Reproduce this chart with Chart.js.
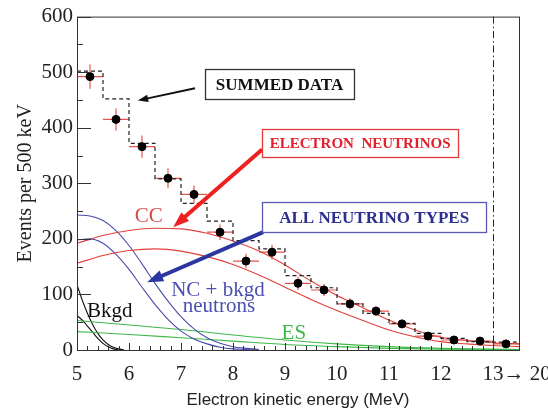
<!DOCTYPE html>
<html>
<head>
<meta charset="utf-8">
<script src="https://cdn.jsdelivr.net/npm/chart.js@4.4.1/dist/chart.umd.min.js"></script>
<style>
  html, body { margin: 0; padding: 0; background: #fff; }
  #wrap { width: 548px; height: 411px; position: relative; }
</style>
</head>
<body>
<div id="wrap"><canvas id="chart"></canvas></div>
<script>
// 數據點 (每 500 keV 一個 bin)
const binCenters = [5.25, 5.75, 6.25, 6.75, 7.25, 7.75, 8.25, 8.75, 9.25, 9.75, 10.25, 10.75, 11.25, 11.75, 12.25, 12.75, 13.25];
const dataEvents = [492, 415, 366, 309, 280, 212, 160, 176, 120, 108, 83, 70, 47, 25, 18, 16, 11];
const dataErrors = [22, 20, 20, 18, 16, 14, 13, 13, 12, 11, 10, 9, 8, 7, 6, 6, 5];

// 虛線直方圖 (summed prediction)
const binEdges = [5, 5.5, 6, 6.5, 7, 7.5, 8, 8.5, 9, 9.5, 10, 10.5, 11, 11.5, 12, 12.5, 13, 13.5];
const summed = [502, 452, 372, 308, 264, 232, 197, 182, 134, 112, 83, 66, 48, 30, 21, 15, 14];

// CC 曲線
const ccE = [5.0, 5.5, 6.0, 6.5, 7.0, 7.5, 8.0, 8.5, 9.0, 9.5, 10.0, 10.5, 11.0, 11.5, 12.0, 12.5, 13.0, 13.5];
const ccHigh = [192, 206, 215, 219, 218, 210, 196, 178, 153, 124, 98, 76, 54, 36, 23, 17, 13, 11];
const ccLow = [156, 170, 179, 182, 178, 168, 154, 135, 113, 91, 71, 53, 36, 24, 15, 11, 8, 6];

// NC + bkgd neutrons
const ncE = [5.0, 5.25, 5.5, 5.75, 6.0, 6.25, 6.5, 6.75, 7.0, 7.25, 7.5, 7.75, 8.0, 8.25, 8.5];
const ncHigh = [243, 241, 233, 215, 188, 155, 120, 88, 60, 38, 22, 12, 6, 3, 1];
const ncLow = [198, 200, 192, 172, 145, 113, 82, 55, 34, 20, 11, 5, 2, 1, 0];

// ES
const esE = [5, 6, 7, 8, 9, 10, 11, 12, 13, 13.5];
const esHigh = [53, 45, 37, 27, 18, 11, 6, 3, 1.5, 1];
const esLow = [33, 28, 22, 16, 10, 6, 3, 1.5, 1, 0.5];

// Bkgd
const bkE = [5.0, 5.1, 5.2, 5.3, 5.4, 5.5, 5.6, 5.7, 5.8, 5.9];
const bkHigh = [117, 90, 66, 46, 30, 18, 10, 5, 2, 0];
const bkLow = [62, 54, 43, 32, 21, 12, 6, 2, 0, 0];

// 軸刻度
const xMajor = [5, 6, 7, 8, 9, 10, 11, 12, 13];
const yMajor = [0, 100, 200, 300, 400, 500, 600];

const SERIF = "'Liberation Serif', 'DejaVu Serif', serif";
const SANS = "'Liberation Sans', Arial, sans-serif";

function pts(xs, ys) { return xs.map((x, i) => ({ x: x, y: ys[i] })); }

function curve(xs, ys, color) {
  return {
    type: 'line', data: pts(xs, ys), borderColor: color, borderWidth: 1.1,
    pointRadius: 0, fill: false, tension: 0.4, cubicInterpolationMode: 'monotone', order: 5
  };
}

// 誤差棒
const errorBars = {
  id: 'errorBars',
  beforeDatasetsDraw(chart) {
    const { ctx, scales: { x, y } } = chart;
    ctx.save();
    ctx.strokeStyle = '#e8554f';
    ctx.lineWidth = 1.2;
    binCenters.forEach((c, i) => {
      const px = x.getPixelForValue(c), py = y.getPixelForValue(dataEvents[i]);
      ctx.beginPath();
      ctx.moveTo(x.getPixelForValue(c - 0.25), py);
      ctx.lineTo(x.getPixelForValue(c + 0.25), py);
      ctx.moveTo(px, y.getPixelForValue(dataEvents[i] + dataErrors[i]));
      ctx.lineTo(px, y.getPixelForValue(dataEvents[i] - dataErrors[i]));
      ctx.stroke();
    });
    ctx.restore();
  }
};

// 邊框、內向刻度、13 MeV 點劃線
const frame = {
  id: 'frame',
  afterDatasetsDraw(chart) {
    const { ctx, chartArea: a, scales: { x, y } } = chart;
    ctx.save();
    ctx.strokeStyle = '#222';
    ctx.lineWidth = 1;
    ctx.setLineDash([7, 3, 1.5, 3]);
    const xl = Math.round(x.getPixelForValue(13)) + 0.5;
    ctx.beginPath(); ctx.moveTo(xl, a.top); ctx.lineTo(xl, a.bottom); ctx.stroke();
    ctx.setLineDash([]);
    ctx.strokeStyle = '#333';
    ctx.strokeRect(a.left + 0.5, a.top + 0.5, a.right - a.left, a.bottom - a.top);
    ctx.beginPath();
    for (let v = 5; v <= 13.001; v += 0.2) {
      const px = Math.round(x.getPixelForValue(v)) + 0.5;
      const major = Math.abs(v - Math.round(v)) < 0.01;
      ctx.moveTo(px, a.bottom); ctx.lineTo(px, a.bottom - (major ? 7 : 4));
    }
    for (let v = 0; v <= 600; v += 50) {
      const py = Math.round(y.getPixelForValue(v)) + 0.5;
      ctx.moveTo(a.left, py); ctx.lineTo(a.left + (v % 100 === 0 ? 14 : 6), py);
    }
    ctx.stroke();
    // 13→ 20 標籤
    ctx.fillStyle = '#222';
    ctx.font = '21px ' + SERIF;
    ctx.textBaseline = 'middle';
    ctx.textAlign = 'left';
    const w13 = ctx.measureText('13').width;
    ctx.fillText('13\u2192 20', x.getPixelForValue(13) - w13 / 2, a.bottom + 24);
    ctx.restore();
  }
};

// 註解文字與箭頭 (資料座標)
const boxes = [
  { text: 'SUMMED DATA', x0: 7.46, x1: 10.33, y0: 505, y1: 451, color: '#111', border: '#333', size: 17 },
  { text: 'ELECTRON  NEUTRINOS', x0: 8.56, x1: 12.33, y0: 397, y1: 347, color: '#e0202a', border: '#e03a3a', size: 15 },
  { text: 'ALL NEUTRINO TYPES', x0: 8.56, x1: 12.87, y0: 266, y1: 212, color: '#2b2f8c', border: '#5a5ab4', size: 17 }
];
const arrows = [
  { x0: 7.27, y0: 471, x1: 6.17, y1: 449, color: '#111', width: 2 },
  { x0: 8.56, y0: 361, x1: 6.85, y1: 221, color: '#ee2020', width: 4 },
  { x0: 8.58, y0: 212, x1: 6.35, y1: 122, color: '#2c36a0', width: 4 }
];
const labels = [
  { text: 'CC', x: 6.38, y: 241, color: '#d84a48' },
  { text: 'NC + bkgd', x: 7.71, y: 108, color: '#4d50b0' },
  { text: 'neutrons', x: 7.73, y: 79, color: '#4d50b0' },
  { text: 'Bkgd', x: 5.63, y: 70, color: '#111' },
  { text: 'ES', x: 9.17, y: 29, color: '#3fb84a' }
];

const notes = {
  id: 'notes',
  afterDraw(chart) {
    const { ctx, scales: { x, y } } = chart;
    ctx.save();
    ctx.textAlign = 'center';
    ctx.textBaseline = 'middle';
    labels.forEach(l => {
      ctx.fillStyle = l.color;
      ctx.font = '21px ' + SERIF;
      ctx.fillText(l.text, x.getPixelForValue(l.x), y.getPixelForValue(l.y));
    });
    arrows.forEach(ar => {
      const x0 = x.getPixelForValue(ar.x0), y0 = y.getPixelForValue(ar.y0);
      const x1 = x.getPixelForValue(ar.x1), y1 = y.getPixelForValue(ar.y1);
      const ang = Math.atan2(y1 - y0, x1 - x0);
      const head = ar.width * 3 + 5;
      ctx.strokeStyle = ar.color;
      ctx.fillStyle = ar.color;
      ctx.lineWidth = ar.width;
      ctx.beginPath();
      ctx.moveTo(x0, y0);
      ctx.lineTo(x1 - Math.cos(ang) * head * 0.7, y1 - Math.sin(ang) * head * 0.7);
      ctx.stroke();
      ctx.beginPath();
      ctx.moveTo(x1, y1);
      ctx.lineTo(x1 - head * Math.cos(ang - 0.35), y1 - head * Math.sin(ang - 0.35));
      ctx.lineTo(x1 - head * Math.cos(ang + 0.35), y1 - head * Math.sin(ang + 0.35));
      ctx.closePath();
      ctx.fill();
    });
    boxes.forEach(b => {
      const l = x.getPixelForValue(b.x0), r = x.getPixelForValue(b.x1);
      const t = y.getPixelForValue(b.y0), btm = y.getPixelForValue(b.y1);
      ctx.fillStyle = '#fff';
      ctx.fillRect(l, t, r - l, btm - t);
      ctx.strokeStyle = b.border;
      ctx.lineWidth = 1.3;
      ctx.strokeRect(Math.round(l) + 0.5, Math.round(t) + 0.5, Math.round(r - l), Math.round(btm - t));
      ctx.fillStyle = b.color;
      ctx.font = 'bold ' + b.size + 'px ' + SERIF;
      ctx.fillText(b.text, (l + r) / 2, (t + btm) / 2 + 1);
    });
    ctx.restore();
  }
};

const histData = pts(binEdges, summed.concat([summed[summed.length - 1]]));

new Chart(document.getElementById('chart'), {
  type: 'scatter',
  data: {
    datasets: [
      { type: 'scatter', data: pts(binCenters, dataEvents), backgroundColor: '#000', borderColor: '#000', pointRadius: 4, order: 0 },
      { type: 'line', data: histData, stepped: 'before', borderColor: '#222', borderWidth: 1.2, borderDash: [4, 3], pointRadius: 0, fill: false, order: 2 },
      curve(ccE, ccHigh, '#e0403c'),
      curve(ccE, ccLow, '#e0403c'),
      curve(ncE, ncHigh, '#4a4cae'),
      curve(ncE, ncLow, '#4a4cae'),
      curve(esE, esHigh, '#3fb84a'),
      curve(esE, esLow, '#3fb84a'),
      curve(bkE, bkHigh, '#111'),
      curve(bkE, bkLow, '#111')
    ]
  },
  options: {
    responsive: true,
    maintainAspectRatio: false,
    animation: false,
    layout: { padding: { top: 16, right: 29, left: 0, bottom: 0 } },
    plugins: { legend: { display: false }, tooltip: { enabled: false } },
    scales: {
      x: {
        type: 'linear', min: 5, max: 13.5,
        afterBuildTicks: s => { s.ticks = xMajor.map(v => ({ value: v })); },
        afterFit: s => { s.height = 61; },
        grid: { display: false, drawTicks: false },
        border: { display: false },
        ticks: {
          color: '#222', padding: 12, maxRotation: 0, autoSkip: false,
          font: { family: SERIF, size: 21 },
          callback: v => (v === 13 ? '' : String(v))
        },
        title: { display: true, text: 'Electron kinetic energy (MeV)', color: '#222', font: { family: SANS, size: 17 }, padding: { top: 0, bottom: 0 } }
      },
      y: {
        type: 'linear', min: 0, max: 600,
        afterBuildTicks: s => { s.ticks = yMajor.map(v => ({ value: v })); },
        afterFit: s => { s.width = 77; },
        grid: { display: false, drawTicks: false },
        border: { display: false },
        ticks: { color: '#222', padding: 4, font: { family: SERIF, size: 21 } },
        title: { display: true, text: 'Events per 500 keV', color: '#222', font: { family: SERIF, size: 20 }, padding: { top: 14, bottom: 0 } }
      }
    }
  },
  plugins: [errorBars, frame, notes]
});
</script>
</body>
</html>
